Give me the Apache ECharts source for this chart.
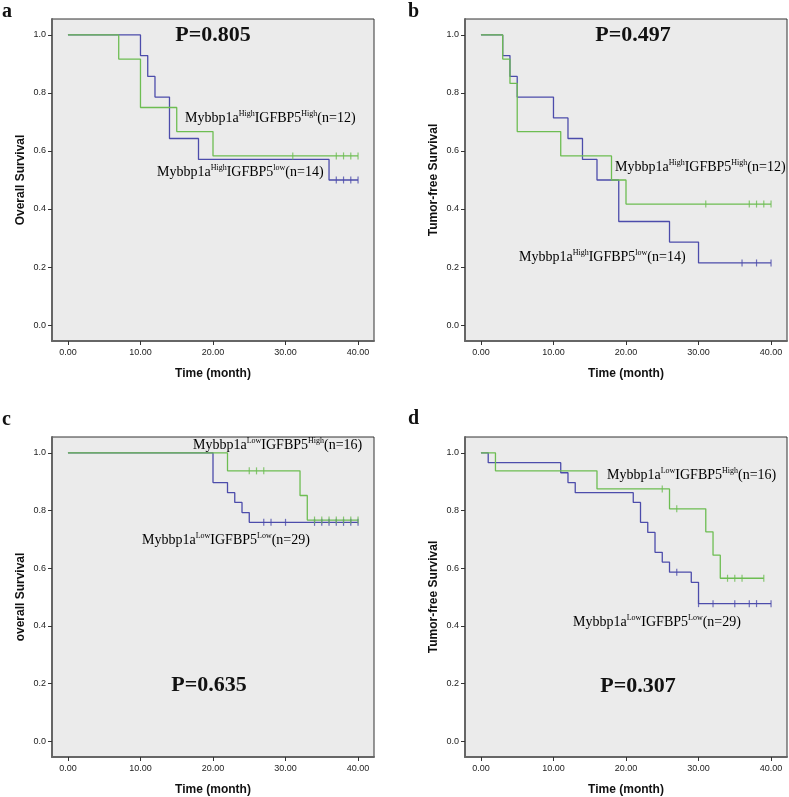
<!DOCTYPE html>
<html><head><meta charset="utf-8">
<script src="https://cdn.jsdelivr.net/npm/echarts@6/dist/echarts.min.js"></script>
<style>html,body{margin:0;padding:0;background:#fff}#c{width:789px;height:797px}</style>
</head><body><div id="c"></div>
<script>
// ---- data ----
const xTicks = [0, 10, 20, 30, 40];
const yTicks = [0, 0.2, 0.4, 0.6, 0.8, 1.0];

// panel a: overall survival, Mybbp1a High
const aGreenT = [0, 7, 10, 15, 20, 40];
const aGreenS = [1, 0.917, 0.75, 0.667, 0.583, 0.583];
const aGreenC = [31, 37, 38, 39, 40];
const aBlueT = [0, 10, 11, 12, 14, 18, 36, 40];
const aBlueS = [1, 0.929, 0.857, 0.786, 0.643, 0.571, 0.5, 0.5];
const aBlueC = [37, 38, 39, 40];

// panel b: tumor-free survival, Mybbp1a High
const bGreenT = [0, 3, 4, 5, 11, 18, 20, 40];
const bGreenS = [1, 0.917, 0.833, 0.667, 0.583, 0.5, 0.417, 0.417];
const bGreenC = [31, 37, 38, 39, 40];
const bBlueT = [0, 3, 4, 5, 10, 12, 14, 16, 19, 26, 30, 40];
const bBlueS = [1, 0.929, 0.857, 0.786, 0.714, 0.643, 0.571, 0.5, 0.357, 0.286, 0.214, 0.214];
const bBlueC = [36, 38, 40];

// panel c: overall survival, Mybbp1a Low
const cGreenT = [0, 22, 32, 33, 40];
const cGreenS = [1, 0.9375, 0.852, 0.767, 0.767];
const cGreenC = [25, 26, 27, 34, 35, 36, 37, 38, 39, 40];
const cBlueT = [0, 20, 22, 23, 24, 25, 40];
const cBlueS = [1, 0.897, 0.862, 0.828, 0.793, 0.759, 0.759];
const cBlueC = [27, 28, 30, 34, 35, 36, 37, 38, 39, 40];

// panel d: tumor-free survival, Mybbp1a Low
const dGreenT = [0, 2, 16, 26, 31, 32, 33, 39];
const dGreenS = [1, 0.9375, 0.875, 0.806, 0.726, 0.645, 0.565, 0.565];
const dGreenC = [25, 27, 34, 35, 36, 39];
const dBlueT = [0, 1, 11, 12, 13, 21, 22, 23, 24, 25, 26, 29, 30, 40];
const dBlueS = [1, 0.966, 0.931, 0.897, 0.862, 0.828, 0.759, 0.724, 0.655, 0.621, 0.586, 0.551, 0.477, 0.477];
const dBlueC = [27, 30, 32, 35, 37, 38, 40];

const panelLetters = ['a', 'b', 'c', 'd'];
const yNames = ['Overall Survival', 'Tumor-free Survival', 'overall Survival', 'Tumor-free Survival'];
const xName = 'Time (month)';
const pValues = ['P=0.805', 'P=0.497', 'P=0.635', 'P=0.307'];

// ---- styling ----
const GREEN = '#6dbd52';
const BLUE = '#4c4cab';
const grids = [
  {left: 52, top: 19}, {left: 465, top: 19}, {left: 52, top: 437}, {left: 465, top: 437}
];
const GW = 322, GH = 322;

function survAt(T, S, t) {
  let v = S[0];
  for (let i = 0; i < T.length; i++) { if (T[i] <= t) v = S[i]; }
  return v;
}
function pairs(T, S) { return T.map((t, i) => [t, S[i]]); }
function cens(T, S, C) { return C.map(t => [t, survAt(T, S, t)]); }

const curves = [
  [[aGreenT, aGreenS, aGreenC], [aBlueT, aBlueS, aBlueC]],
  [[bGreenT, bGreenS, bGreenC], [bBlueT, bBlueS, bBlueC]],
  [[cGreenT, cGreenS, cGreenC], [cBlueT, cBlueS, cBlueC]],
  [[dGreenT, dGreenS, dGreenC], [dBlueT, dBlueS, dBlueC]]
];

const option = {
  animation: false,
  backgroundColor: '#ffffff',
  grid: grids.map(g => ({left: g.left, top: g.top, width: GW, height: GH, show: true,
    backgroundColor: '#ebebeb', borderColor: '#333', borderWidth: 1, containLabel: false})),
  xAxis: grids.map((g, i) => ({
    type: 'value', gridIndex: i, min: -2.2, max: 42.2,
    name: xName, nameLocation: 'middle', nameGap: 27,
    nameTextStyle: {fontFamily: 'Liberation Sans', fontWeight: 'bold', fontSize: 12, color: '#111'},
    axisLine: {show: true, onZero: false, lineStyle: {color: '#666', width: 2}},
    axisTick: {show: true, length: 4, customValues: xTicks, lineStyle: {color: '#333', width: 1}},
    axisLabel: {show: true, customValues: xTicks, margin: 7, fontFamily: 'Liberation Sans', fontSize: 9, color: '#222',
      formatter: v => Number(v).toFixed(2)},
    splitLine: {show: false}
  })),
  yAxis: grids.map((g, i) => ({
    type: 'value', gridIndex: i, min: -0.055, max: 1.055,
    name: yNames[i], nameLocation: 'middle', nameGap: 25, nameRotate: 90,
    nameTextStyle: {fontFamily: 'Liberation Sans', fontWeight: 'bold', fontSize: 12, color: '#111'},
    axisLine: {show: true, onZero: false, lineStyle: {color: '#666', width: 2}},
    axisTick: {show: true, length: 4, customValues: yTicks, lineStyle: {color: '#333', width: 1}},
    axisLabel: {show: true, customValues: yTicks, margin: 6, fontFamily: 'Liberation Sans', fontSize: 9, color: '#222',
      formatter: v => Number(v).toFixed(1)},
    splitLine: {show: false}
  })),
  series: [],
  graphic: []
};

curves.forEach((pc, i) => {
  // blue first, green drawn on top
  [[pc[1], BLUE], [pc[0], GREEN]].forEach(([c, col]) => {
    option.series.push({type: 'line', xAxisIndex: i, yAxisIndex: i, step: 'end', showSymbol: false,
      data: pairs(c[0], c[1]), lineStyle: {color: col, width: 1.3}, z: 3});
    option.series.push({type: 'scatter', xAxisIndex: i, yAxisIndex: i, symbol: 'rect', symbolSize: [1.2, 7],
      data: cens(c[0], c[1], c[2]), itemStyle: {color: col}, z: 4});
  });
});

const serif = 'Liberation Serif';
const rich = {
  m: {fontFamily: serif, fontSize: 14, color: '#111', lineHeight: 17},
  s: {fontFamily: serif, fontSize: 8, color: '#111', verticalAlign: 'top', lineHeight: 17}
};
function label(x, y, sup1, sup2, n) {
  return {type: 'text', x: x, y: y, z: 10, style: {
    text: '{m|Mybbp1a}{s|' + sup1 + '}{m|IGFBP5}{s|' + sup2 + '}{m|(n=' + n + ')}',
    rich: rich, align: 'left', verticalAlign: 'middle'}};
}
function ptext(cx, cy, t) {
  return {type: 'text', x: cx, y: cy, z: 10, style: {text: t, fontFamily: serif, fontWeight: 'bold',
    fontSize: 22, fill: '#111', align: 'center', verticalAlign: 'middle'}};
}
function letter(x, y, t) {
  return {type: 'text', x: x, y: y, z: 10, style: {text: t, fontFamily: serif, fontWeight: 'bold',
    fontSize: 20, fill: '#111', align: 'left', verticalAlign: 'middle'}};
}
option.graphic = [
  letter(2, 12, panelLetters[0]), letter(408, 12, panelLetters[1]),
  letter(2, 420, panelLetters[2]), letter(408, 419, panelLetters[3]),
  ptext(213, 35, pValues[0]), ptext(633, 35, pValues[1]),
  ptext(209, 685, pValues[2]), ptext(638, 686, pValues[3]),
  label(185, 118, 'High', 'High', 12), label(157, 172, 'High', 'low', 14),
  label(615, 167, 'High', 'High', 12), label(519, 257, 'High', 'low', 14),
  label(193, 445, 'Low', 'High', 16), label(142, 540, 'Low', 'Low', 29),
  label(607, 475, 'Low', 'High', 16), label(573, 622, 'Low', 'Low', 29)
];

const chart = echarts.init(document.getElementById('c'), null, {renderer: 'canvas'});
chart.setOption(option);
</script></body></html>
